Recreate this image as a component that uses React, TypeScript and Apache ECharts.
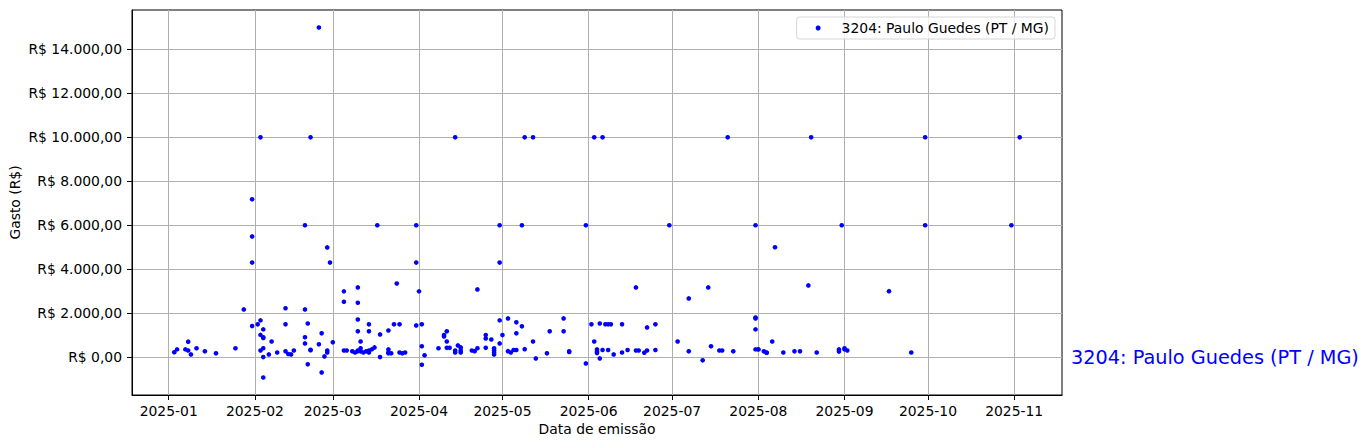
import React, { useEffect, useRef } from "react";
import * as echarts from "echarts";

const SERIES_NAME = "3204: Paulo Guedes (PT / MG)";
const X_AXIS_NAME = "Data de emissão";
const Y_AXIS_NAME = "Gasto (R$)";

// month tick labels on the x axis
const MONTH_TICKS = [
  "2025-01-01", "2025-02-01", "2025-03-01", "2025-04-01", "2025-05-01", "2025-06-01",
  "2025-07-01", "2025-08-01", "2025-09-01", "2025-10-01", "2025-11-01",
];

// tick values on the y axis
const Y_TICKS = [0, 2000, 4000, 6000, 8000, 10000, 12000, 14000];

// emission dates of each expense
const DATES = [
  "2025-01-03", "2025-01-04", "2025-01-07", "2025-01-08", "2025-01-08", "2025-01-09", "2025-01-11",
  "2025-01-14", "2025-01-18", "2025-01-25", "2025-01-28", "2025-01-31", "2025-01-31", "2025-01-31",
  "2025-01-31",
  "2025-02-02", "2025-02-03", "2025-02-03", "2025-02-03", "2025-02-03", "2025-02-04", "2025-02-04",
  "2025-02-04", "2025-02-04", "2025-02-04", "2025-02-04", "2025-02-06", "2025-02-07", "2025-02-09",
  "2025-02-12", "2025-02-12", "2025-02-12", "2025-02-13", "2025-02-14", "2025-02-15", "2025-02-19",
  "2025-02-19", "2025-02-19", "2025-02-19", "2025-02-20", "2025-02-20", "2025-02-21", "2025-02-21",
  "2025-02-21", "2025-02-24", "2025-02-24", "2025-02-25", "2025-02-25", "2025-02-26", "2025-02-27",
  "2025-02-27", "2025-02-27", "2025-02-28",
  "2025-03-01", "2025-03-05", "2025-03-05", "2025-03-05", "2025-03-06", "2025-03-08", "2025-03-09",
  "2025-03-10", "2025-03-10", "2025-03-10", "2025-03-10", "2025-03-10", "2025-03-10", "2025-03-11",
  "2025-03-11", "2025-03-11", "2025-03-12", "2025-03-13", "2025-03-14", "2025-03-14", "2025-03-14",
  "2025-03-14", "2025-03-15", "2025-03-16", "2025-03-17", "2025-03-18", "2025-03-18", "2025-03-21",
  "2025-03-21", "2025-03-21", "2025-03-22", "2025-03-21", "2025-03-23", "2025-03-24", "2025-03-25",
  "2025-03-25", "2025-03-26", "2025-03-27", "2025-03-31", "2025-03-31", "2025-03-31",
  "2025-04-01", "2025-04-02", "2025-04-02", "2025-04-02", "2025-04-03", "2025-04-08", "2025-04-10",
  "2025-04-10", "2025-04-11", "2025-04-11", "2025-04-11", "2025-04-12", "2025-04-14", "2025-04-14",
  "2025-04-14", "2025-04-15", "2025-04-16", "2025-04-16", "2025-04-16", "2025-04-20", "2025-04-21",
  "2025-04-22", "2025-04-22", "2025-04-25", "2025-04-25", "2025-04-25", "2025-04-27", "2025-04-28",
  "2025-04-28", "2025-04-28", "2025-04-28", "2025-04-30", "2025-04-30", "2025-04-30", "2025-04-30",
  "2025-05-01", "2025-05-03", "2025-05-03", "2025-05-04", "2025-05-05", "2025-05-06", "2025-05-06",
  "2025-05-06", "2025-05-08", "2025-05-08", "2025-05-09", "2025-05-09", "2025-05-12", "2025-05-12",
  "2025-05-13", "2025-05-17", "2025-05-18", "2025-05-23", "2025-05-23", "2025-05-25", "2025-05-25",
  "2025-05-31", "2025-05-31",
  "2025-06-02", "2025-06-03", "2025-06-03", "2025-06-04", "2025-06-04", "2025-06-04", "2025-06-05",
  "2025-06-05", "2025-06-06", "2025-06-06", "2025-06-07", "2025-06-08", "2025-06-08", "2025-06-09",
  "2025-06-10", "2025-06-13", "2025-06-13", "2025-06-15", "2025-06-18", "2025-06-18", "2025-06-19",
  "2025-06-21", "2025-06-22", "2025-06-22", "2025-06-25", "2025-06-25", "2025-06-30",
  "2025-07-03", "2025-07-07", "2025-07-07", "2025-07-12", "2025-07-14", "2025-07-15", "2025-07-18",
  "2025-07-19", "2025-07-21", "2025-07-23", "2025-07-31", "2025-07-31", "2025-07-31", "2025-07-31",
  "2025-07-31",
  "2025-08-01", "2025-08-01", "2025-08-03", "2025-08-04", "2025-08-04", "2025-08-06", "2025-08-07",
  "2025-08-10", "2025-08-14", "2025-08-16", "2025-08-19", "2025-08-20", "2025-08-22", "2025-08-30",
  "2025-08-30", "2025-08-31",
  "2025-09-01", "2025-09-01", "2025-09-02", "2025-09-17", "2025-09-25", "2025-09-30", "2025-09-30",
  "2025-10-31", "2025-11-03",
];

// amount of each expense (R$)
const VALUES = [
  220, 350, 350, 700, 300, 120, 400,
  260, 170, 400, 2170, 7180, 5490, 4300,
  1410,
  1490, 10000, 1670, 1010, 300, 1260, 900,
  870, 400, 0, -930, 120, 710, 210,
  260, 2220, 1490, 140, 120, 300, 6000,
  2170, 900, 620, 1530, -330, 10000, 330,
  310, 580, 15000, 1080, -700, 30, 210,
  300, 4990, 4300,
  670, 2520, 2990, 300, 300, 260, 210,
  260, 3170, 2470, 1710, 1170, 300, 710,
  400, 260, 210, 260, 1490, 1170, 210,
  300, 350, 440, 6000, 1030, 0, 1210,
  350, 210, 170, 170, 1490, 3350, 1490,
  210, 170, 210, 6000, 4300, 1440,
  2990, 1490, 490, -350, 80, 400, 1000,
  940, 1170, 710, 420, 420, 10000, 300,
  210, 530, 440, 300, 210, 300, 270,
  400, 3080, 1000, 850, 420, 800, 400,
  300, 210, 120, 6000, 4300, 1670, 620,
  1000, 1760, 270, 210, 320, 320, 1580,
  1080, 6000, 1400, 10000, 360, 10000, 710,
  -60, 170, 1170, 1760, 1170, 260, 230,
  -290, 6000,
  1490, 10000, 710, 350, 250, 180, 1530,
  -60, 10000, 320, 1490, 1490, 320, 1490,
  120, 1490, 210, 320, 3170, 300, 300,
  200, 1350, 300, 1490, 320, 6000,
  710, 2670, 260, -150, 3170, 490, 300,
  300, 10000, 260, 6000, 1800, 1760, 1260,
  350,
  350, 350, 260, 200, 200, 710, 5000,
  210, 260, 260, 3260, 10000, 210, 350,
  250, 6000,
  400, 350, 300, 3000, 210, 10000, 6000,
  6000, 10000,
];

const FONT = "DejaVu Sans";

function toTs(s: string): number {
  const [y, m, d] = s.split("-").map(Number);
  return Date.UTC(y, m - 1, d);
}

function brl(v: number): string {
  const neg = v < 0;
  const [i, f] = Math.abs(v).toFixed(2).split(".");
  const ii = i.replace(/\B(?=(\d{3})+(?!\d))/g, ".");
  return "R$ " + (neg ? "-" : "") + ii + "," + f;
}

function monthLabel(ts: number): string {
  const d = new Date(ts);
  const m = d.getUTCMonth() + 1;
  return d.getUTCFullYear() + "-" + (m < 10 ? "0" + m : "" + m);
}

export default function App() {
  const ref = useRef<HTMLDivElement>(null);

  useEffect(() => {
    if (!ref.current) return;
    const chart = echarts.init(ref.current, undefined, { renderer: "svg" });

    const xs = DATES.map(toTs);
    const points = xs.map((x, i) => [x, VALUES[i]]);
    const xMinD = Math.min(...xs);
    const xMaxD = Math.max(...xs);
    const yMinD = Math.min(...VALUES);
    const yMaxD = Math.max(...VALUES);
    const xPad = (xMaxD - xMinD) * 0.05;
    const yPad = (yMaxD - yMinD) * 0.05;
    const monthTs = MONTH_TICKS.map(toTs);

    chart.setOption({
      animation: false,
      textStyle: { fontFamily: FONT },
      grid: {
        left: 132,
        top: 10,
        width: 930,
        height: 385,
        containLabel: false,
        outerBoundsMode: "none",
        show: true,
        borderColor: "#000",
        borderWidth: 1,
        backgroundColor: "#fff",
      },
      legend: {
        data: [{ name: SERIES_NAME, icon: "circle" }],
        right: 316,
        top: 17,
        padding: [4, 6, 4, 19],
        itemWidth: 5,
        itemHeight: 5,
        backgroundColor: "rgba(255,255,255,0.8)",
        borderColor: "#d6d6d6",
        borderWidth: 1,
        borderRadius: 3,
        textStyle: {
          fontFamily: FONT,
          fontSize: 13.9,
          color: "#000",
          padding: [0, 0, 0, 16],
        },
      },
      xAxis: {
        type: "value",
        min: xMinD - xPad,
        max: xMaxD + xPad,
        name: X_AXIS_NAME,
        nameLocation: "middle",
        nameGap: 27,
        nameMoveOverlap: false,
        nameTextStyle: { fontFamily: FONT, fontSize: 13.9, color: "#000" },
        axisLine: { show: true, onZero: false, lineStyle: { color: "#000", width: 1 } },
        axisTick: {
          show: true,
          length: 5,
          lineStyle: { color: "#000", width: 1 },
          customValues: monthTs,
        },
        axisLabel: {
          margin: 9,
          color: "#000",
          fontFamily: FONT,
          fontSize: 13.9,
          customValues: monthTs,
          formatter: (v: number) => monthLabel(v),
        },
        splitLine: { show: true, lineStyle: { color: "#b0b0b0", width: 1 } },
      },
      yAxis: {
        type: "value",
        min: yMinD - yPad,
        max: yMaxD + yPad,
        name: Y_AXIS_NAME,
        nameLocation: "middle",
        nameGap: 110,
        nameMoveOverlap: false,
        nameTextStyle: { fontFamily: FONT, fontSize: 13.9, color: "#000" },
        axisLine: { show: true, onZero: false, lineStyle: { color: "#000", width: 1 } },
        axisTick: {
          show: true,
          length: 5,
          lineStyle: { color: "#000", width: 1 },
          customValues: Y_TICKS,
        },
        axisLabel: {
          margin: 10,
          color: "#000",
          fontFamily: FONT,
          fontSize: 13.9,
          customValues: Y_TICKS,
          formatter: (v: number) => brl(v),
        },
        splitLine: { show: true, lineStyle: { color: "#b0b0b0", width: 1 } },
      },
      series: [
        {
          name: SERIES_NAME,
          type: "scatter",
          data: points,
          symbol: "circle",
          symbolSize: 4.6,
          itemStyle: { color: "#0000ff", opacity: 1 },
        },
      ],
      graphic: [
        {
          type: "text",
          x: 1071,
          y: 357,
          style: {
            text: SERIES_NAME,
            fill: "#0000ff",
            fontFamily: FONT,
            fontSize: 19.3,
            align: "left",
            verticalAlign: "middle",
          },
        },
      ],
    });

    return () => chart.dispose();
  }, []);

  return (
    <div
      ref={ref}
      style={{ position: "absolute", left: 0, top: 0, width: 1371, height: 448, background: "#fff" }}
    />
  );
}
